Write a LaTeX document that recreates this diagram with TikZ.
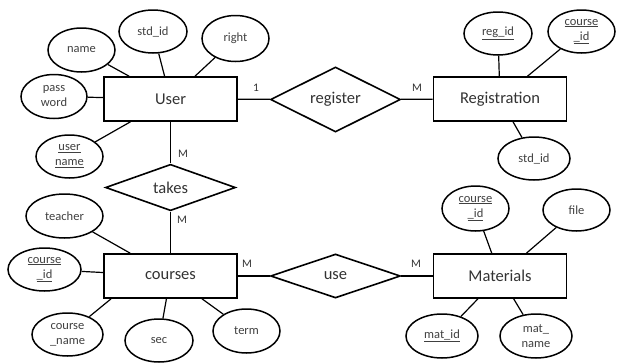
\documentclass[tikz,border=0pt]{standalone}
\usepackage{fontspec}
\setmainfont{Carlito}
\usepackage{tikz}
\usetikzlibrary{shapes.geometric}
\tikzset{
  entity/.style={draw,line width=1.6pt,minimum width=133pt,minimum height=44pt,inner sep=0pt,font=\fontsize{16.5}{18}\selectfont,text=black!80},
  relation/.style={draw,diamond,line width=1.6pt,minimum width=130pt,minimum height=44pt,inner sep=0pt,font=\fontsize{16.5}{18}\selectfont,text=black!80},
  attrib/.style={draw,ellipse,line width=1.5pt,inner sep=0pt,align=center,font=\fontsize{12.5}{15}\selectfont,text=black!75},
  card/.style={font=\fontsize{11.5}{13}\selectfont,text=black!80},
  link/.style={line width=1.2pt}
}

\begin{document}
\begin{tikzpicture}[x=1pt,y=-1pt]
  \useasboundingbox (0,0) rectangle (619,362);
  % entities and relationships
  \node[entity] (user) at (170.5,99) {User};
  \node[entity] (registration) at (500,99) {Registration};
  \node[entity] (courses) at (170.5,276) {courses};
  \node[entity] (materials) at (500,276) {Materials};
  \node[relation] (register) at (335.5,99.5) {register};
  \node[relation] (takes) at (170.5,187.5) {takes};
  \node[relation] (use) at (335.5,276) {use};
  \draw[link] (user) -- (register);
  \draw[link] (register) -- (registration);
  \draw[link] (user) -- (takes);
  \draw[link] (takes) -- (courses);
  \draw[link] (courses) -- (use);
  \draw[link] (use) -- (materials);
  \node[card] (c1) at (256,88) {1};
  \node[card] (c2) at (417,88) {M};
  \node[card] (c3) at (183,154) {M};
  \node[card] (c4) at (182,220) {M};
  \node[card] (c5) at (247,264) {M};
  \node[card] (c6) at (416,264) {M};
  % User
  \node[attrib,minimum width=67pt,minimum height=44pt] (uname) at (81.5,50) {name};
  \node[attrib,minimum width=68pt,minimum height=43pt] (ustdid) at (153,31.5) {std\_id};
  \node[attrib,minimum width=67pt,minimum height=46pt] (uright) at (235.5,38.5) {right};
  \node[attrib,minimum width=66pt,minimum height=44pt] (upass) at (54,96.5) {pass\\word};
  \node[attrib,minimum width=67pt,minimum height=43pt] (uuser) at (69.5,156.5) {\underline{user}\\\underline{name}};
  \draw[link] (uname) -- (user);
  \draw[link] (ustdid) -- (user);
  \draw[link] (uright) -- (user);
  \draw[link] (upass) -- (user);
  \draw[link] (uuser) -- (user);
  % Registration
  \node[attrib,minimum width=68pt,minimum height=43pt] (rregid) at (498,33.5) {\underline{reg\_id}};
  \node[attrib,minimum width=67pt,minimum height=43pt] (rcourseid) at (581.5,31.5) {\underline{course}\\\underline{\_id}};
  \node[attrib,minimum width=72pt,minimum height=43pt] (rstdid) at (534,158.5) {std\_id};
  \draw[link] (rregid) -- (registration);
  \draw[link] (rcourseid) -- (registration);
  \draw[link] (rstdid) -- (registration);
  % courses
  \node[attrib,minimum width=77pt,minimum height=44pt] (cteacher) at (64.5,216) {teacher};
  \node[attrib,minimum width=73pt,minimum height=43pt] (ccourseid) at (44.5,269.5) {\underline{course}\\\underline{\_id}};
  \node[attrib,minimum width=71pt,minimum height=43pt] (cname) at (67.5,334.5) {course\\\_name};
  \node[attrib,minimum width=68pt,minimum height=43pt] (csec) at (159,340.5) {sec};
  \node[attrib,minimum width=67pt,minimum height=44pt] (cterm) at (246.5,331) {term};
  \draw[link] (cteacher) -- (courses);
  \draw[link] (ccourseid) -- (courses);
  \draw[link] (cname) -- (courses.201);
  \draw[link] (csec) -- (courses);
  \draw[link] (cterm) -- (courses);
  % Materials
  \node[attrib,minimum width=67pt,minimum height=45pt] (mcourseid) at (475.5,208.5) {\underline{course}\\\underline{\_id}};
  \node[attrib,minimum width=67pt,minimum height=42pt] (mfile) at (576.5,210) {file};
  \node[attrib,minimum width=72pt,minimum height=44pt] (mmatid) at (442,336) {\underline{mat\_id}};
  \node[attrib,minimum width=72pt,minimum height=44pt] (mmatname) at (536,336) {mat\_\\name};
  \draw[link] (mcourseid) -- (materials);
  \draw[link] (mfile) -- (materials);
  \draw[link] (mmatid) -- (materials);
  \draw[link] (mmatname) -- (materials);
\end{tikzpicture}
\end{document}
